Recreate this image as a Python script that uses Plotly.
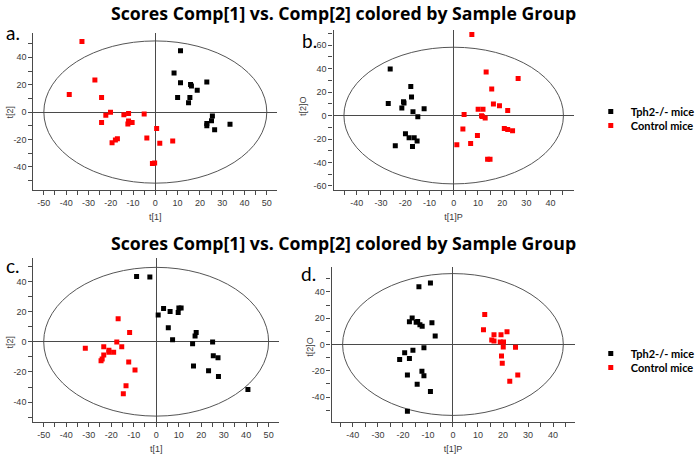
import plotly.graph_objects as go

# Values
# panel a: t[1] vs t[2]
a_tph2_x = [11.3, 8.4, 11.3, 15.8, 16.2, 23.1, 18.8, 10.0, 15.5, 14.9, 25.6, 25.2, 23.1, 23.1, 26.6, 33.5]
a_tph2_y = [44.9, 28.5, 21.5, 20.2, 19.0, 22.0, 15.9, 10.7, 10.7, 6.8, -2.9, -6.3, -8.3, -10.0, -12.9, -9.0]
a_ctrl_x = [-32.9, -27.1, -38.6, -24.1, -20.1, -22.2, -24.1, -14.1, -12.0, -12.0, -12.3, -10.4, -5.0, 0.6,
            -3.8, -17.0, -17.9, -19.4, 2.0, 7.8, -1.3, -0.3]
a_ctrl_y = [51.5, 23.4, 12.9, 10.7, -0.2, -2.4, -7.6, -2.0, -1.0, -6.6, -8.8, -7.6, -1.5, -12.0,
            -19.0, -19.5, -20.5, -22.4, -22.9, -21.2, -37.6, -37.3]

# panel b: t[1]P vs t[2]O
b_tph2_x = [-26.2, -17.7, -17.4, -27.0, -20.7, -20.5, -21.4, -16.8, -12.2, -14.8, -19.9, -18.4, -16.3, -15.1, -24.1, -17.0]
b_tph2_y = [39.7, 24.9, 15.8, 10.4, 11.8, 10.7, 6.4, 3.3, 5.8, -1.0, -15.5, -19.0, -19.0, -21.8, -25.8, -26.4]
b_ctrl_x = [7.5, 13.4, 26.6, 15.7, 16.4, 18.9, 22.3, 10.1, 12.1, 4.3, 11.5, 11.8, 13.0, 3.8, 20.9, 22.3,
            24.3, 9.8, 1.3, 7.0, 14.0, 15.0]
b_ctrl_y = [69.1, 37.2, 31.7, 22.7, 9.8, 8.4, 4.4, 5.3, 5.3, 1.0, -0.1, -0.7, -2.1, -11.5, -11.0, -11.8,
            -13.0, -17.0, -24.9, -23.8, -37.2, -37.2]

# panel c: t[1] vs t[2]
c_tph2_x = [-8.7, -2.8, 0.9, 3.3, 6.2, 10.1, 11.1, 9.8, 5.4, 7.3, 17.8, 17.3, 16.2, 25.1, 25.4, 27.5,
            16.6, 23.3, 27.7, 40.8]
c_tph2_y = [43.3, 42.9, 17.7, 22.1, 20.1, 22.3, 22.3, 19.4, 9.3, 1.3, 6.2, 3.8, -1.3, -0.2, -9.3, -10.6,
            -16.1, -19.2, -23.0, -31.6]
c_ctrl_x = [-16.9, -11.8, -17.5, -31.5, -23.3, -15.3, -21.0, -21.0, -18.9, -23.3, -24.0, -24.5, -12.2,
            -9.4, -13.4, -14.6]
c_ctrl_y = [15.2, 6.2, -0.2, -4.4, -3.3, -3.3, -5.7, -6.9, -6.9, -8.8, -11.5, -12.6, -13.5,
            -18.8, -29.2, -34.5]

# panel d: t[1]P vs t[2]O
d_tph2_x = [-9.0, -13.6, -16.3, -17.4, -14.7, -14.1, -13.2, -12.3, -8.4, -7.1, -11.6, -16.0, -19.3,
            -21.3, -17.4, -12.4, -11.6, -18.2, -14.3, -9.0, -18.2]
d_tph2_y = [46.8, 44.0, 20.1, 17.3, 17.0, 17.5, 15.0, 13.8, 16.5, 6.4, -2.4, -4.4, -6.2,
            -11.5, -10.7, -20.3, -23.8, -23.3, -30.2, -35.7, -50.9]
d_ctrl_x = [12.7, 12.2, 16.4, 19.2, 21.6, 15.5, 16.4, 18.9, 20.2, 20.1, 25.0, 19.4, 19.7, 25.9, 22.7]
d_ctrl_y = [22.8, 11.2, 7.4, 7.4, 9.7, 3.4, 2.6, 1.9, 1.9, -1.9, -2.1, -8.7, -14.3, -23.3, -27.9]

# Hotelling ellipse half-axes (x, y) per panel
ellipse_a = (50, 52)
ellipse_b = (45.3, 58.3)
ellipse_c = (50, 49.3)
ellipse_d = (44.1, 54)

# axis ranges per panel
range_a = ([-54.7, 54.7], [-57.0, 57.8])
range_b = ([-49.6, 49.5], [-63.5, 73.0])
range_c = ([-54.6, 54.7], [-53.2, 55.5])
range_d = ([-48.5, 48.6], [-59.0, 59.0])

x_ticks_50 = [-50, -40, -30, -20, -10, 0, 10, 20, 30, 40, 50]
x_ticks_40 = [-40, -30, -20, -10, 0, 10, 20, 30, 40]
y_ticks_60 = [-60, -40, -20, 0, 20, 40, 60]
y_ticks_40 = [-40, -20, 0, 20, 40]

title = "Scores Comp[1] vs. Comp[2] colored by Sample Group"
group_names = ["Tph2-/- mice", "Control mice"]
group_colors = ["#000000", "#ff0000"]

W, H = 700, 457

def px_x(p):
    return p / W

def px_y(p):
    return 1 - p / H

panels = [
    dict(ax="", tph2=(a_tph2_x, a_tph2_y), ctrl=(a_ctrl_x, a_ctrl_y), ell=ellipse_a, rng=range_a,
         dx=[35, 291], dy=[190, 33], xt=x_ticks_50, yt=y_ticks_40, xtitle="t[1]", ytitle="t[2]",
         ytpos=(11, 112), leg=None),
    dict(ax="2", tph2=(b_tph2_x, b_tph2_y), ctrl=(b_ctrl_x, b_ctrl_y), ell=ellipse_b, rng=range_b,
         dx=[350, 602], dy=[190, 30], xt=x_ticks_40, yt=y_ticks_60, xtitle="t[1]P", ytitle="t[2]O",
         ytpos=(318, 106), leg=("legend", "legend2")),
    dict(ax="3", tph2=(c_tph2_x, c_tph2_y), ctrl=(c_ctrl_x, c_ctrl_y), ell=ellipse_c, rng=range_c,
         dx=[35, 293], dy=[422, 258], xt=x_ticks_50, yt=y_ticks_40, xtitle="t[1]", ytitle="t[2]",
         ytpos=(11, 342), leg=None),
    dict(ax="4", tph2=(d_tph2_x, d_tph2_y), ctrl=(d_ctrl_x, d_ctrl_y), ell=ellipse_d, rng=range_d,
         dx=[348, 603], dy=[422, 267], xt=x_ticks_40, yt=y_ticks_40, xtitle="t[1]P", ytitle="t[2]O",
         ytpos=(325, 347), leg=("legend3", "legend4")),
]

tick_font = dict(family="Liberation Sans, Arial", size=9, color="#3a3a3a")
axis_col = "#4a4a4a"

fig = go.Figure()
shapes = []
annotations = []
for p in panels:
    xa = "x" + p["ax"]
    ya = "y" + p["ax"]
    for i, ((xs, ys), name, col) in enumerate(zip([p["tph2"], p["ctrl"]], group_names, group_colors)):
        fig.add_trace(go.Scatter(
            x=xs, y=ys, mode="markers", name=name, xaxis=xa, yaxis=ya,
            marker=dict(symbol="square", size=5, color=col),
            showlegend=p["leg"] is not None,
            legend=p["leg"][i] if p["leg"] else "legend",
            hoverinfo="x+y+name"))
    ex, ey = p["ell"]
    shapes.append(dict(type="circle", xref=xa, yref=ya, x0=-ex, x1=ex, y0=-ey, y1=ey,
                       line=dict(color="#555555", width=1), layer="below"))

    axis_common = dict(showgrid=False, zeroline=True, zerolinecolor=axis_col, zerolinewidth=1.3,
                       showline=True, linecolor=axis_col, linewidth=1.3, ticks="outside",
                       ticklen=4, tickcolor=axis_col, tickwidth=1, tickfont=tick_font)
    fig.layout["xaxis" + p["ax"]] = dict(
        axis_common, domain=[px_x(p["dx"][0]), px_x(p["dx"][1])], anchor=ya, range=p["rng"][0],
        tickvals=p["xt"], ticktext=[str(v) for v in p["xt"]],
        minor=dict(dtick=5, tick0=0, ticks="outside", ticklen=4, tickcolor=axis_col),
        title=dict(text=p["xtitle"], font=tick_font, standoff=6))
    fig.layout["yaxis" + p["ax"]] = dict(
        axis_common, domain=[px_y(p["dy"][0]), px_y(p["dy"][1])], anchor=xa, range=p["rng"][1],
        tickvals=p["yt"], ticktext=[str(v) for v in p["yt"]],
        minor=dict(dtick=10, tick0=0, ticks="outside", ticklen=4, tickcolor=axis_col))
    # y axis title placed where the reference shows it
    annotations.append(dict(text=p["ytitle"], x=px_x(p["ytpos"][0]), y=px_y(p["ytpos"][1]),
                            xref="paper", yref="paper", showarrow=False, textangle=-90,
                            font=tick_font, xanchor="center", yanchor="middle"))

for ty in [13, 243]:
    annotations.append(dict(text=title, x=px_x(361), y=px_y(ty), xref="paper", yref="paper",
                            showarrow=False,
                            font=dict(family="Open Sans", size=17.7, color="#000000", weight="bold"),
                            xanchor="center", yanchor="middle"))
for lab, lx, ly in [("a.", 4, 32), ("b.", 315, 40), ("c.", 4, 265), ("d.", 314, 273)]:
    annotations.append(dict(text=lab, x=px_x(lx), y=px_y(ly), xref="paper", yref="paper",
                            showarrow=False, font=dict(family="Lato", size=19, color="#000000"),
                            xanchor="left", yanchor="middle"))

legend_style = dict(font=dict(family="Lato", size=11, color="#000000", weight="bold"),
                    bgcolor="rgba(0,0,0,0)", xanchor="left", yanchor="top",
                    itemwidth=30, tracegroupgap=0)
leg_x = px_x(620)

fig.update_layout(
    width=W, height=H, margin=dict(l=0, r=0, t=0, b=0),
    paper_bgcolor="#ffffff", plot_bgcolor="#ffffff",
    shapes=shapes, annotations=annotations,
    legend=dict(legend_style, x=leg_x, y=px_y(97)),
    legend2=dict(legend_style, x=leg_x, y=px_y(111)),
    legend3=dict(legend_style, x=leg_x, y=px_y(339)),
    legend4=dict(legend_style, x=leg_x, y=px_y(353)),
)

fig.write_html("out.html", config={"displayModeBar": False},
               post_script="document.body.style.margin='0';document.body.style.padding='0';")
